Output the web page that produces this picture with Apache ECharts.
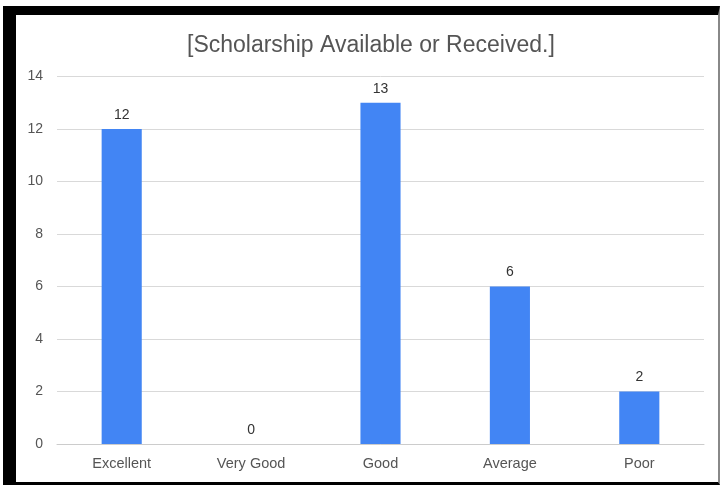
<!DOCTYPE html>
<html>
<head>
<meta charset="utf-8">
<script src="https://cdn.jsdelivr.net/npm/echarts@6/dist/echarts.min.js"></script>
<style>
  html, body { margin: 0; padding: 0; background: #fff; width: 720px; height: 485px; overflow: hidden; }
  #frame {
    position: absolute; left: 3px; top: 6px;
    width: 702px; height: 467px;
    border-left: 13px solid #000; border-top: 9px solid #000;
    border-bottom: 3px solid #000; border-right: 2px solid #888;
    background: #fff;
  }
  #chart { width: 702px; height: 467px; }
</style>
</head>
<body>
<div id="frame"><div id="chart"></div></div>
<script>
const titleText = '[Scholarship Available or Received.]';
const categories = ['Excellent', 'Very Good', 'Good', 'Average', 'Poor'];
const values = [12, 0, 13, 6, 2];
const yTicks = { min: 0, max: 14, interval: 2 };

const chart = echarts.init(document.getElementById('chart'), null, { renderer: 'canvas' });
const font = 'Arial, "Liberation Sans", sans-serif';
chart.setOption({
  animation: false,
  backgroundColor: '#fff',
  title: {
    text: titleText,
    left: 166,
    top: 14,
    textStyle: { fontFamily: font, fontSize: 23, fontWeight: 'normal', color: '#555' }
  },
  grid: { left: 41, right: 14, top: 61.5, bottom: 38, containLabel: false },
  xAxis: {
    type: 'category',
    data: categories,
    axisLine: { show: true, lineStyle: { color: '#ccc' } },
    axisTick: { show: false },
    axisLabel: { fontFamily: font, fontSize: 14.5, color: '#555', margin: 12 }
  },
  yAxis: {
    type: 'value',
    min: yTicks.min, max: yTicks.max, interval: yTicks.interval,
    axisLine: { show: false },
    axisTick: { show: false },
    axisLabel: { fontFamily: font, fontSize: 14, color: '#555', margin: 14 },
    splitLine: { lineStyle: { color: '#d9d9d9' } }
  },
  series: [{
    type: 'bar',
    data: values,
    barWidth: '31%',
    itemStyle: { color: '#4285F4' },
    label: { show: true, position: 'top', distance: 7, fontFamily: font, fontSize: 14, color: '#333' }
  }]
});
</script>
</body>
</html>
